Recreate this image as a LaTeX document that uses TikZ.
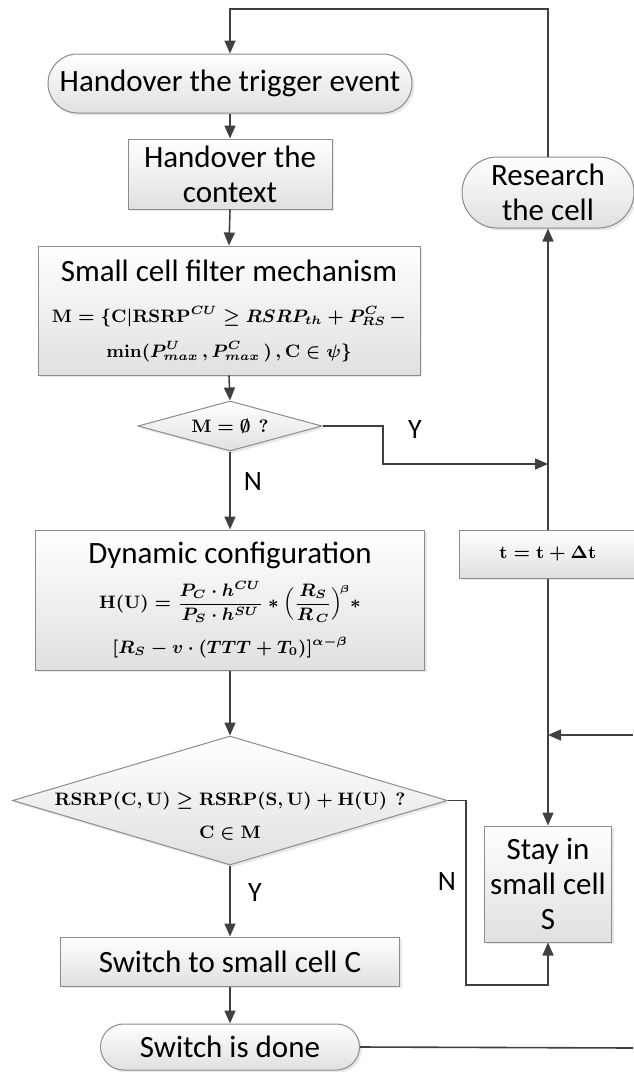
\documentclass[tikz,border=0pt]{standalone}
\usepackage[no-math]{fontspec}
\setmainfont{Carlito}
\usepackage{amsmath,amssymb}
\usetikzlibrary{positioning,shapes.misc,shapes.geometric,arrows.meta,shadows}
\definecolor{LineGray}{RGB}{64,64,64}
\definecolor{EdgeGray}{RGB}{140,140,140}
\definecolor{FillGray}{RGB}{224,224,224}
\tikzset{>={Triangle[length=6.5pt,width=5.5pt]}}
\tikzset{basebox/.style={draw=EdgeGray,line width=.5pt,top color=white,bottom color=FillGray,inner sep=0pt,align=center,
    font=\fontsize{15.5}{17.5}\selectfont,drop shadow={shadow xshift=1.2pt,shadow yshift=-1.2pt,opacity=.18}}}
\tikzset{procbox/.style={basebox,rectangle}}
\tikzset{termbox/.style={basebox,rounded rectangle}}
\tikzset{decbox/.style={basebox,diamond}}
\tikzset{flow/.style={->,draw=LineGray,line width=.8pt}}
\tikzset{yn/.style={font=\fontsize{14}{16}\selectfont}}
\newcommand{\mathsize}{\fontsize{9}{11}\selectfont\boldmath}

\begin{document}
\begin{tikzpicture}[x=.5pt,y=-.5pt]
    \useasboundingbox (0,0) rectangle (633,1072);
    % main column
    \node[termbox,minimum width=182pt,minimum height=29.5pt](start) at (230,83.5) {Handover the trigger event};
    \node[procbox,minimum width=102pt,minimum height=35pt](context) at (230,174) {Handover the\\context};
    \node[procbox,minimum width=191pt,minimum height=64.5pt](filter) at (229,310.5)
        {Small cell filter mechanism\\[3pt]
         {\mathsize$\mathbf{M}=\{\mathbf{C}|\mathbf{RSRP}^{CU}\geq RSRP_{th}+P^{C}_{RS}\,-$}\\[0pt]
         {\mathsize$\min(P^{U}_{max}\,,P^{C}_{max}\,)\,,\mathbf{C}\in\psi\}$}};
    \node[decbox,minimum width=92pt,minimum height=25pt,shape aspect=3.7,font=\mathsize](dec1) at (230,426) {$\mathbf{M}=\emptyset\ \ ?$};
    \node[procbox,minimum width=194.5pt,minimum height=70pt](dyn) at (230,600)
        {Dynamic configuration\\[5pt]
         {\mathsize$\mathbf{H(U)}=\dfrac{P_{C}\cdot h^{CU}}{P_{S}\cdot h^{SU}}*\Bigl(\dfrac{R_{S}}{R_{\,C}}\Bigr)^{\!\scriptscriptstyle\beta}*$}\\[5pt]
         {\mathsize$[R_{S}-v\cdot(TTT+T_{0})]^{\alpha-\beta}$}};
    \node[decbox,minimum width=217.5pt,minimum height=64.5pt,shape aspect=3.4,font=\mathsize](dec2) at (230,800.5)
        {$\mathbf{RSRP(C,U)}\geq\mathbf{RSRP(S,U)}+\mathbf{H(U)}\ \ ?$};
    \node[font=\mathsize](dec2b) at (230,833) {$\mathbf{C}\in\mathbf{M}$};
    \node[procbox,minimum width=169.5pt,minimum height=24.5pt](switch) at (230,961.5) {Switch to small cell C};
    \node[termbox,minimum width=129.5pt,minimum height=23pt](done) at (230,1047) {Switch is done};
    % right column
    \node[termbox,minimum width=86pt,minimum height=35.5pt](research) at (548,192.5) {Research\\the cell};
    \node[procbox,minimum width=89pt,minimum height=24pt,font=\mathsize](tbox) at (548,554) {$\mathbf{t}=\mathbf{t}+\Delta\mathbf{t}$};
    \node[procbox,minimum width=63.5pt,minimum height=58pt](stay) at (548,884) {Stay in\\small cell\\S};
    % bends and loose ends
    \coordinate (toploop) at (389,9);
    \coordinate (ybend) at (383,464);
    \coordinate (yjoin) at (548,464);
    \coordinate (rin) at (633,735);
    \coordinate (sjoin) at (548,735);
    \coordinate (nbend) at (466,985);
    \coordinate (dout) at (633,1048);
    % connectors
    \draw[flow] (research.north) |- (toploop) -| (start.north);
    \draw[flow] (start.south) -- (context.north);
    \draw[flow] (context.south) -- (filter.north);
    \draw[flow] (filter.south) -- (dec1.north);
    \draw[flow] (dec1.south) -- (dyn.north);
    \draw[flow] (dec1.east) -| (ybend) -- (yjoin);
    \draw[flow] (tbox.north) -- (research.south);
    \draw[flow] (tbox.south) -- (stay.north);
    \draw[flow] (rin) -- (sjoin);
    \draw[flow] (dyn.south) -- (dec2.north);
    \draw[flow] (dec2.south) -- (switch.north);
    \draw[flow] (dec2.east) -| (nbend) -| (stay.south);
    \draw[flow] (switch.south) -- (done.north);
    \draw[LineGray,line width=.8pt] (done.east) -- (dout);
    \node[yn](lblY1) at (415,430) {Y};
    \node[yn](lblN1) at (253,482) {N};
    \node[yn](lblY2) at (255,893) {Y};
    \node[yn](lblN2) at (447,882) {N};
\end{tikzpicture}
\end{document}
